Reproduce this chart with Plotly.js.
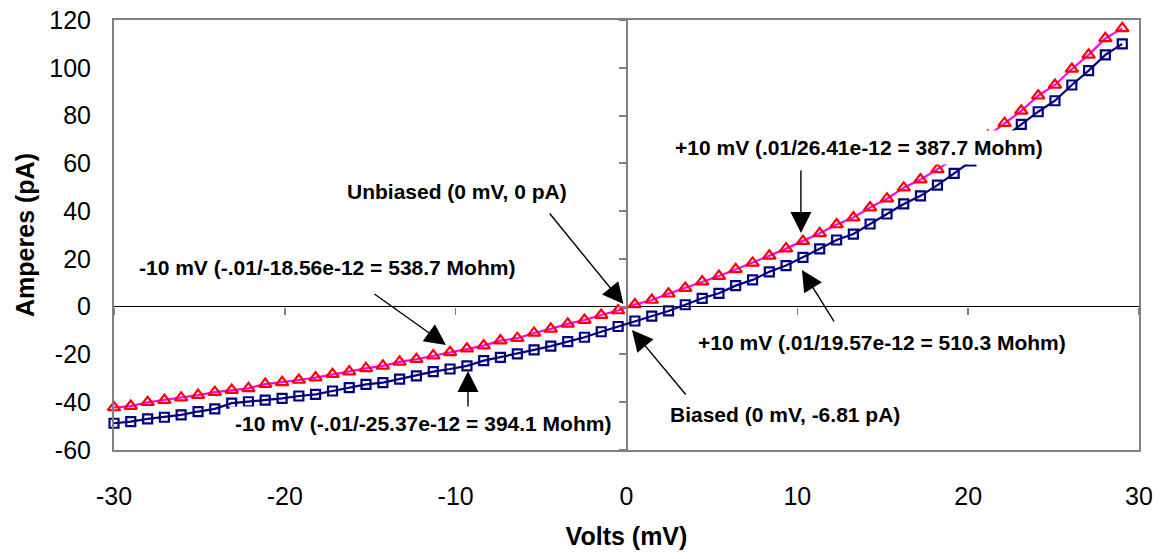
<!DOCTYPE html>
<html>
<head>
<meta charset="utf-8">
<script src="https://cdn.plot.ly/plotly-3.0.1.min.js"></script>
<style>
  html, body { margin: 0; padding: 0; background: #ffffff; }
  #chart { width: 1162px; height: 559px; }
</style>
</head>
<body>
<div id="chart"></div>
<script>
// Voltage (mV) sample points
const volts = [
  -30.00, -29.02, -28.03, -27.05, -26.07, -25.08, -24.10, -23.11, -22.13, -21.15,
  -20.16, -19.18, -18.20, -17.21, -16.23, -15.25, -14.26, -13.28, -12.30, -11.31,
  -10.33, -9.34, -8.36, -7.38, -6.39, -5.41, -4.43, -3.44, -2.46, -1.48,
  -0.49, 0.49, 1.48, 2.46, 3.44, 4.43, 5.41, 6.39, 7.38, 8.36,
  9.34, 10.33, 11.31, 12.30, 13.28, 14.26, 15.25, 16.23, 17.21, 18.20,
  19.18, 20.16, 21.15, 22.13, 23.11, 24.10, 25.08, 26.07, 27.05, 28.03,
  29.02
];
// Unbiased current (pA) - triangles
const unbiasedPA = [
  -42.2, -41.6, -40.0, -39.1, -38.1, -37.0, -35.8, -34.9, -34.2, -32.4,
  -31.7, -30.7, -29.7, -28.3, -27.2, -25.8, -24.8, -23.1, -22.0, -20.5,
  -19.1, -17.6, -16.3, -14.2, -13.2, -11.0, -9.3, -7.2, -5.6, -3.5,
  -1.6, 0.9, 2.8, 5.4, 7.8, 10.5, 12.8, 15.6, 18.3, 21.3,
  24.3, 27.4, 30.7, 34.4, 37.3, 41.5, 45.2, 49.8, 53.2, 57.5,
  62.0, 66.5, 71.5, 76.8, 82.0, 88.3, 92.8, 99.5, 105.4, 112.3,
  116.5
];
// Biased current (pA) - squares
const biasedPA = [
  -48.8, -48.1, -47.0, -46.3, -45.3, -43.9, -42.8, -40.4, -39.8, -39.1,
  -38.4, -37.4, -36.7, -35.3, -33.9, -32.5, -31.8, -30.3, -29.0, -27.2,
  -26.1, -24.8, -22.6, -21.2, -19.8, -18.1, -16.5, -14.6, -12.8, -10.5,
  -8.3, -6.0, -4.0, -1.8, 0.8, 3.5, 5.6, 8.8, 11.2, 14.6,
  17.2, 20.6, 24.2, 27.9, 30.4, 34.6, 38.8, 43.0, 46.4, 50.9,
  55.8, 61.0, 66.0, 71.0, 76.3, 81.6, 86.2, 92.8, 98.8, 105.4,
  110.0
];
const xTicks = [-30, -20, -10, 0, 10, 20, 30];
const yTicks = [-60, -40, -20, 0, 20, 40, 60, 80, 100, 120];

const labelTexts = [
  'Unbiased (0 mV, 0 pA)',
  '-10 mV (-.01/-18.56e-12 = 538.7 Mohm)',
  '-10 mV (-.01/-25.37e-12 = 394.1 Mohm)',
  'Biased (0 mV, -6.81 pA)',
  '+10 mV (.01/26.41e-12 = 387.7 Mohm)',
  '+10 mV (.01/19.57e-12 = 510.3 Mohm)'
];
const labelX = [-9.92, -17.53, -11.91, 9.28, 13.61, 14.96];
const labelY = [48.4, 16.6, -49.1, -45.3, 66.6, -15.2];

// arrow heads (data) and tail offsets (px)
const arrowX = [-0.18, -10.57, -9.28, 0.32, 10.21, 10.27];
const arrowY = [1.1, -16.0, -26.9, -9.75, 30.85, 15.4];
const arrowAX = [-75, -73, 0, 55, 0, 33];
const arrowAY = [-92, -52, 37, 66, -64, 53];

const FONT = 'Liberation Sans, Arial, sans-serif';

const traces = [
  {
    type: 'scatter', mode: 'lines+markers',
    x: volts, y: unbiasedPA, name: 'Unbiased',
    line: {color: '#FF00FF', width: 2.2},
    marker: {symbol: 'triangle-up-open', size: 11, color: '#FF0000', line: {color: '#FF0000', width: 2.2}},
    cliponaxis: false
  },
  {
    type: 'scatter', mode: 'lines+markers',
    x: volts, y: biasedPA, name: 'Biased',
    line: {color: '#000080', width: 2.2},
    marker: {symbol: 'square-open', size: 9, color: '#000080', line: {color: '#000080', width: 2.2}},
    cliponaxis: false
  },
  {
    type: 'scatter', mode: 'markers', x: [], y: [], xaxis: 'x2', yaxis: 'y2',
    showlegend: false, hoverinfo: 'skip'
  }
];

const annotations = [];
for (let i = 0; i < labelTexts.length; i++) {
  annotations.push({
    x: labelX[i], y: labelY[i], xref: 'x', yref: 'y',
    text: '<b>' + labelTexts[i] + '</b>', showarrow: false,
    font: {family: FONT, size: 21, color: '#000000'},
    bgcolor: '#FFFFFF', borderpad: 5, xanchor: 'center', yanchor: 'middle'
  });
}
for (let i = 0; i < arrowX.length; i++) {
  annotations.push({
    x: arrowX[i], y: arrowY[i], xref: 'x', yref: 'y',
    ax: arrowAX[i], ay: arrowAY[i],
    text: '', showarrow: true, arrowhead: 2, arrowsize: 3, arrowwidth: 1.4,
    arrowcolor: '#000000', standoff: 0
  });
}

const layout = {
  width: 1162, height: 559,
  margin: {l: 114, r: 23, t: 20, b: 109, pad: 0},
  paper_bgcolor: '#FFFFFF', plot_bgcolor: '#FFFFFF',
  showlegend: false,
  font: {family: FONT, color: '#000000'},
  xaxis: {
    range: [-30, 30], tickvals: xTicks, ticktext: xTicks.map(String),
    showgrid: false, ticks: '',
    zeroline: true, zerolinecolor: '#808080', zerolinewidth: 2,
    showline: true, mirror: true, linecolor: '#808080', linewidth: 2,
    tickfont: {family: FONT, size: 25, color: '#000000'},
    ticklabelstandoff: 23,
    title: {text: '<b>Volts (mV)</b>', font: {family: FONT, size: 25, color: '#000000'}, standoff: 18}
  },
  yaxis: {
    range: [-60, 120], tickvals: yTicks, ticktext: yTicks.map(String),
    showgrid: false, ticks: '',
    zeroline: true, zerolinecolor: '#000000', zerolinewidth: 1.5,
    showline: true, mirror: true, linecolor: '#808080', linewidth: 2,
    tickfont: {family: FONT, size: 25, color: '#000000'},
    ticklabelstandoff: 16,
    title: {text: '<b>Amperes (pA)</b>', font: {family: FONT, size: 25, color: '#000000'}, standoff: 8}
  },
  xaxis2: {
    overlaying: 'x', anchor: 'free', position: 1 / 3,
    range: [-30, 30], tickvals: xTicks, ticks: 'outside', ticklen: 7,
    tickcolor: '#808080', tickwidth: 1.5, showticklabels: false,
    showline: false, showgrid: false, zeroline: false
  },
  yaxis2: {
    overlaying: 'y', anchor: 'free', position: 0.5,
    range: [-60, 120], tickvals: yTicks, ticks: 'outside', ticklen: 8,
    tickcolor: '#808080', tickwidth: 2, showticklabels: false,
    showline: false, showgrid: false, zeroline: false
  },
  annotations: annotations
};

Plotly.newPlot('chart', traces, layout, {displayModeBar: false, staticPlot: true});
</script>
</body>
</html>
